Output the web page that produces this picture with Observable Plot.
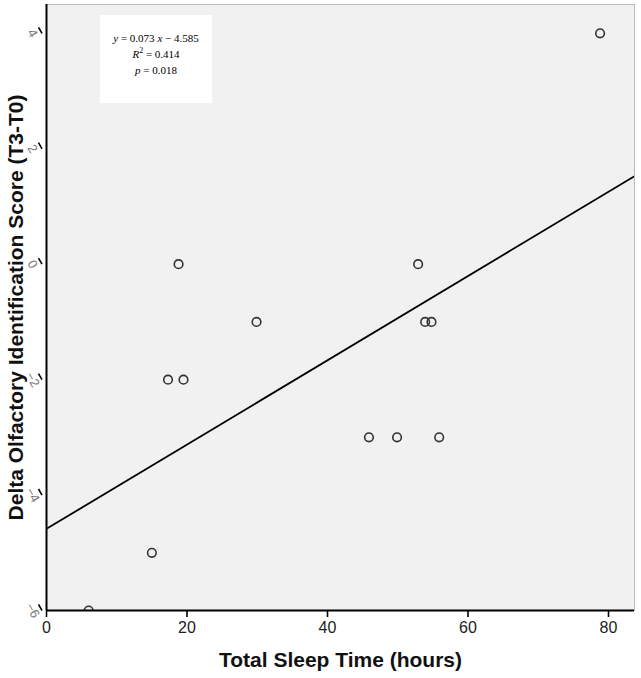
<!DOCTYPE html>
<html>
<head>
<meta charset="utf-8">
<script src="https://cdn.jsdelivr.net/npm/d3@7"></script>
<script src="https://cdn.jsdelivr.net/npm/@observablehq/plot@0.6"></script>
<style>
  body { margin: 0; background: #fff; }
  #wrap { position: relative; width: 641px; height: 678px; }
  #box { position: absolute; left: 100px; top: 15px; width: 112px; height: 88px; background: #fff;
         font-family: "Liberation Serif", "DejaVu Serif", serif; font-size: 11px; color: #000;
         text-align: center; line-height: 16px; padding-top: 15px; box-sizing: border-box; }
  #box i { font-style: italic; }
</style>
</head>
<body>
<div id="wrap"><div id="box">
  <div><i>y</i> = 0.073 <i>x</i> − 4.585</div>
  <div><i>R</i><sup style="font-size:8px;line-height:0">2</sup> = 0.414</div>
  <div><i>p</i> = 0.018</div>
</div></div>
<script>
const sleepHours = [6, 15, 17.3, 19.5, 18.8, 29.9, 45.9, 49.9, 55.9, 52.9, 53.9, 54.8, 78.8];
const deltaScore = [-6, -5, -2, -2, 0, -1, -3, -3, -3, 0, -1, -1, 4];
const xTicks = [0, 20, 40, 60, 80];
const yTicks = [4, 2, 0, -2, -4, -6];
const slope = 0.073, intercept = -4.585;
const fitX = [0, 84];

const pts = sleepHours.map((x, i) => ({x, y: deltaScore[i]}));
const fit = fitX.map(x => ({x, y: intercept + slope * x}));

const chart = Plot.plot({
  width: 641,
  height: 678,
  marginLeft: 46,
  marginRight: 7,
  marginTop: 4,
  marginBottom: 68,
  style: {fontFamily: "'Liberation Sans Narrow', 'Liberation Sans', Arial, sans-serif", background: "#fff"},
  x: {domain: [0, 83.7], ticks: xTicks, label: null},
  y: {domain: [-6, 4.5], ticks: yTicks, label: null},
  marks: [
    Plot.frame({fill: "#f1f1f1", stroke: "#bbb"}),
    Plot.line(fit, {x: "x", y: "y", stroke: "#000", strokeWidth: 1.8, clip: true}),
    Plot.dot(pts, {x: "x", y: "y", r: 4.3, stroke: "#333", strokeWidth: 1.6, fill: "none", clip: true}),
    Plot.ruleX([0], {stroke: "#000", strokeWidth: 2}),
    Plot.ruleY([-6], {stroke: "#000", strokeWidth: 2}),
    Plot.axisX(xTicks, {tickSize: 7, tickPadding: 4, fontSize: 16, stroke: "#000", strokeWidth: 1.6, fill: "#222", label: null}),
    Plot.axisY(yTicks, {tickSize: 7, tickPadding: 3, fontSize: 13, stroke: "#000", strokeWidth: 1.6, fill: "#777", tickFormat: d3.format("d"), textAnchor: "middle", rotate: 60, dx: -4, label: null}),
    Plot.text(["Total Sleep Time (hours)"], {frameAnchor: "bottom", dy: 56, fontSize: 21, fontWeight: "bold", fill: "#111", fontFamily: "'Liberation Sans', Arial, sans-serif"}),
    Plot.text(["Delta Olfactory Identification Score (T3-T0)"], {frameAnchor: "left", textAnchor: "middle", dx: -30, rotate: -90, fontSize: 21, fontWeight: "bold", fill: "#111", fontFamily: "'Liberation Sans', Arial, sans-serif"})
  ]
});
document.getElementById("wrap").prepend(chart);
chart.style.position = "absolute";
chart.style.left = "0";
chart.style.top = "0";
</script>
</body>
</html>
